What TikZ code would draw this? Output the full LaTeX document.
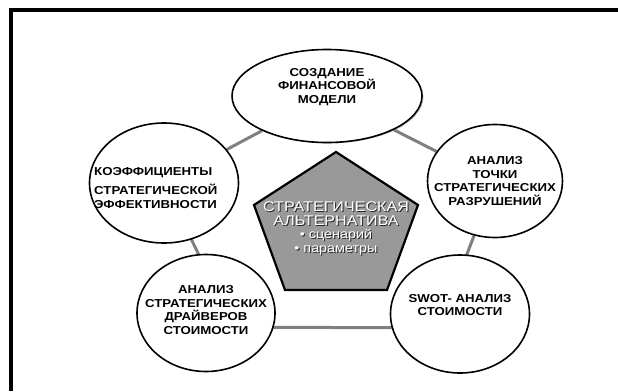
\documentclass[tikz,border=0pt]{standalone}
\usepackage{fontspec}
\setmainfont{Liberation Sans}[FakeStretch=1.15]
\usetikzlibrary{shapes.geometric,backgrounds,shadows}

\newcommand\shadetext[1]{\leavevmode\rlap{\kern1pt\raisebox{-1pt}{\color{black!85}#1}}#1}

\tikzset{
    bubble/.style = {ellipse, draw, line width = 1.6pt, fill = white, inner sep = 0pt},
    caption/.style = {font = \bfseries\fontsize{11.5}{13.5}\selectfont, align = center, inner sep = 0pt},
    link/.style = {draw = black!50, line width = 3pt},
}

\begin{document}
\begin{tikzpicture}[x = 1pt, y = -1pt]
        \useasboundingbox (0,0) rectangle (618,391);
        \draw[line width = 4pt] (11,391) -- (11,10) -- (618,10);
        % outer bubbles
        \node[bubble, minimum width = 190pt, minimum height = 93pt,
              drop shadow = {shadow xshift = 1.5pt, shadow yshift = -1pt, fill = black!45}] (model) at (327,96) {};
        \node[bubble, minimum width = 135pt, minimum height = 113pt] (breaks) at (495,181) {};
        \node[bubble, minimum width = 139pt, minimum height = 118pt] (swot) at (460,314) {};
        \node[bubble, minimum width = 138pt, minimum height = 117pt] (drivers) at (206,313) {};
        \node[bubble, minimum width = 149pt, minimum height = 120pt] (ratios) at (164,183) {};
        \begin{scope}[on background layer]
            \draw[link] (model) -- (ratios);
            \draw[link] (model) -- (breaks);
            \draw[link] (ratios.center) -- ([xshift = 21pt]drivers.center);
            \draw[link] (breaks.center) -- ([xshift = -16pt]swot.center);
            \draw[link] ([yshift = -14pt]drivers.center) -- ([yshift = -14pt]swot.center);
        \end{scope}
        % texts
        \node[caption] (modeltext) at ([yshift = 9pt]model.center) {СОЗДАНИЕ\\ФИНАНСОВОЙ\\МОДЕЛИ};
        \node[caption] (breakstext) at (breaks.center) {АНАЛИЗ\\ТОЧКИ\\СТРАТЕГИЧЕСКИХ\\РАЗРУШЕНИЙ};
        \node[caption] (swottext) at ([yshift = 9pt]swot.center) {SWOT- АНАЛИЗ\\СТОИМОСТИ};
        \node[caption] (driverstext) at ([yshift = 3pt]drivers.center) {АНАЛИЗ\\СТРАТЕГИЧЕСКИХ\\ДРАЙВЕРОВ\\СТОИМОСТИ};
        \node[caption, align = left, anchor = west] (ratiostext) at (94,188) {КОЭФФИЦИЕНТЫ\\[6pt]СТРАТЕГИЧЕСКОЙ\\ЭФФЕКТИВНОСТИ};
        % central pentagon
        \coordinate (p1) at (336,152);
        \coordinate (p2) at (418,205);
        \coordinate (p3) at (387,290);
        \coordinate (p4) at (285,290);
        \coordinate (p5) at (254,205);
        \draw[line width = 2.2pt, fill = black!40, line join = miter] (p1) -- (p2) -- (p3) -- (p4) -- (p5) -- cycle;
        \node[text = white, align = center, inner sep = 0pt, font = \fontsize{14}{13.5}\selectfont] (alt) at (336,229)
            {\shadetext{СТРАТЕГИЧЕСКАЯ}\\\shadetext{АЛЬТЕРНАТИВА}\\
             {\fontsize{12.5}{13}\selectfont\shadetext{• сценарий}}\\
             {\fontsize{12.5}{13}\selectfont\shadetext{• параметры}}};
\end{tikzpicture}
\end{document}
